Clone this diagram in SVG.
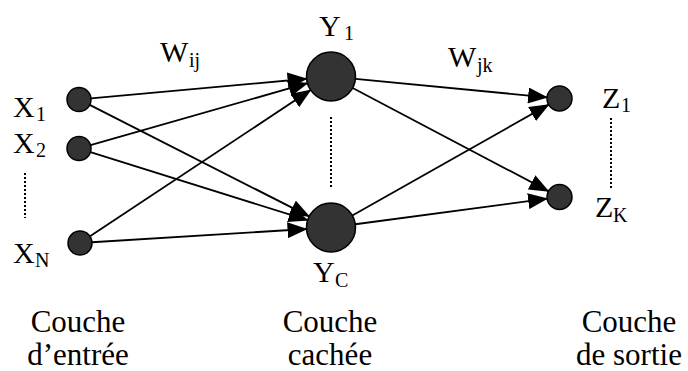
<svg xmlns="http://www.w3.org/2000/svg" width="688" height="371" viewBox="0 0 688 371">
<style>
.n{fill:#333333;stroke:#000;stroke-width:1.5}
.c{stroke:#000;stroke-width:1.8;fill:none;marker-end:url(#ah)}
.d{stroke:#000;stroke-width:2;stroke-dasharray:2,2;fill:none}
.l{font-size:30px}
.s{font-size:20px}
.b{font-size:31px;text-anchor:middle}
</style>
<defs>
<marker id="ah" markerUnits="userSpaceOnUse" markerWidth="20" markerHeight="16" refX="19" refY="8" orient="auto">
<path d="M0,0 L20,8 L0,16 z" fill="#000"/>
</marker>
</defs>
<g id="connectors">
<line class="c" x1="90.95" y1="98.41" x2="306.6" y2="78.73"/>
<line class="c" x1="89.7" y1="104.9" x2="309.16" y2="216.4"/>
<line class="c" x1="90.54" y1="145.2" x2="307.44" y2="83.23"/>
<line class="c" x1="90.45" y1="152.09" x2="307.62" y2="220.17"/>
<line class="c" x1="90" y1="236.37" x2="310.58" y2="90.04"/>
<line class="c" x1="91.98" y1="242.26" x2="306.55" y2="229.01"/>
<line class="c" x1="355.39" y1="78.85" x2="547.06" y2="97.3"/>
<line class="c" x1="352.67" y1="87.93" x2="548.44" y2="191.17"/>
<line class="c" x1="352.33" y1="215.46" x2="548.61" y2="104.65"/>
<line class="c" x1="355.28" y1="224.26" x2="547.11" y2="198.65"/>
</g>
<g font-family="'Liberation Serif', Tinos, 'Times New Roman', 'DejaVu Serif', serif" fill="#000">
<g id="x1"><circle class="n" cx="79" cy="99.5" r="12"/><text class="l" x="13" y="117">X<tspan class="s" x="36" y="121">1</tspan></text></g>
<g id="x2"><circle class="n" cx="79" cy="148.5" r="12"/><text class="l" x="13" y="153">X<tspan class="s" x="36" y="157">2</tspan></text></g>
<g id="xn"><circle class="n" cx="80" cy="243" r="12"/><text class="l" x="13" y="263">X<tspan class="s" x="35" y="267">N</tspan></text></g>
<g id="y1"><circle class="n" cx="331" cy="76.5" r="24.5"/><text class="l" x="319" y="36">Y<tspan class="s" x="344" y="40">1</tspan></text></g>
<g id="yc"><circle class="n" cx="331" cy="227.5" r="24.5"/><text class="l" x="313" y="282">Y<tspan class="s" x="335" y="287">C</tspan></text></g>
<g id="z1"><circle class="n" cx="559.5" cy="98.5" r="12.5"/><text class="l" x="602" y="108">Z<tspan class="s" x="621" y="112">1</tspan></text></g>
<g id="zk"><circle class="n" cx="559.5" cy="197" r="12.5"/><text class="l" x="595" y="217">Z<tspan class="s" x="613" y="222">K</tspan></text></g>
<g id="weights">
<text class="l" x="160" y="62">W<tspan class="s" x="189" y="67">ij</tspan></text>
<text class="l" x="448" y="67">W<tspan class="s" x="477" y="72">jk</tspan></text>
</g>
<g id="layers">
<text class="b" x="78" y="332">Couche</text>
<text class="b" x="78" y="365">d’entrée</text>
<text class="b" x="330" y="332">Couche</text>
<text class="b" x="330" y="365">cachée</text>
<text class="b" x="629" y="332">Couche</text>
<text class="b" x="629" y="365">de sortie</text>
</g>
</g>
<g id="dots">
<line class="d" x1="25" y1="173" x2="25" y2="218"/>
<line class="d" x1="331" y1="117" x2="331" y2="188"/>
<line class="d" x1="611" y1="118" x2="611" y2="190"/>
</g>
</svg>
